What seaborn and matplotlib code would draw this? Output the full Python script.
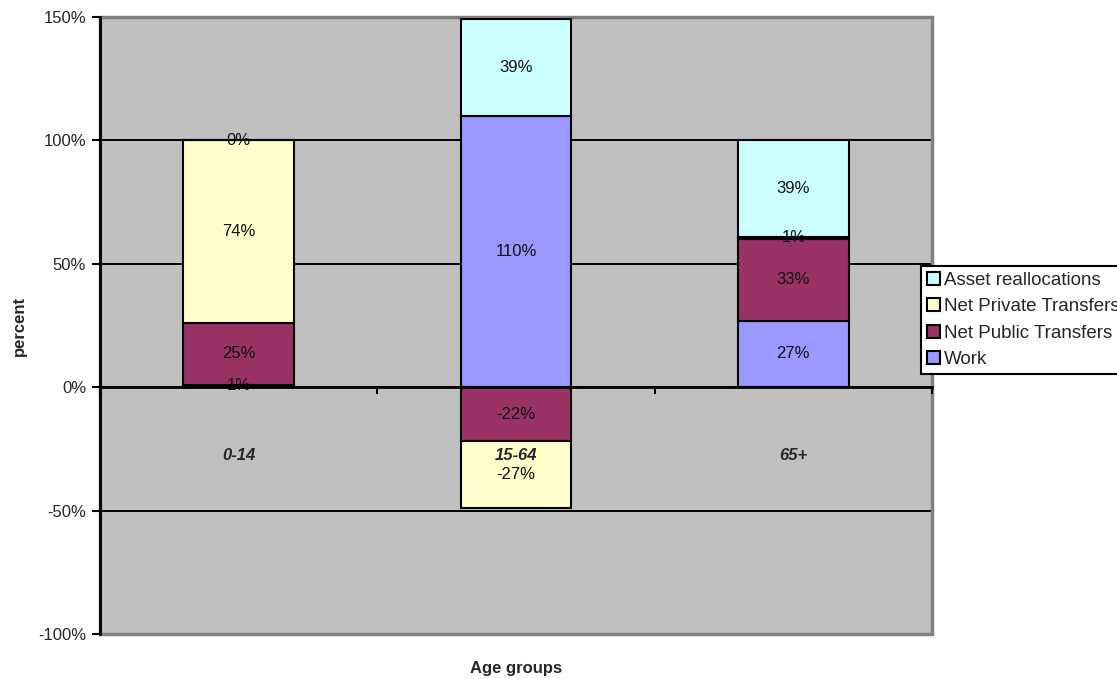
import numpy as np
import matplotlib
matplotlib.use("Agg")
import matplotlib.pyplot as plt
from matplotlib.ticker import PercentFormatter, FixedLocator
from matplotlib.patches import Rectangle
import seaborn as sns

# Age groups and the contribution of each source (percent)
age_groups = ["0-14", "15-64", "65+"]
work = [1, 110, 27]
net_public = [25, -22, 33]
net_private = [74, -27, 1]
asset_realloc = [0, 39, 39]

series_names = ["Work", "Net Public Transfers", "Net Private Transfers", "Asset reallocations"]
series_values = [work, net_public, net_private, asset_realloc]
series_colors = ["#9999FF", "#993366", "#FFFFCC", "#CCFFFF"]

y_ticks = [-100, -50, 0, 50, 100, 150]

sns.set_style("white")
plt.rcParams["font.family"] = ["Liberation Sans", "DejaVu Sans"]
plt.rcParams["axes.unicode_minus"] = False

fig = plt.figure(figsize=(11.17, 6.79), dpi=100)
ax = fig.add_axes([100 / 1117, 45 / 679, 832 / 1117, 617 / 679])
ax.set_facecolor("#C0C0C0")

# horizontal gridlines behind the bars
for t in y_ticks:
    ax.axhline(t, color="black", lw=1.4, zorder=0.5)

# stacked bars: positives build upward from 0, negatives downward
pos_base = np.zeros(len(age_groups))
neg_base = np.zeros(len(age_groups))
for name, vals, col in zip(series_names, series_values, series_colors):
    vals = np.asarray(vals, dtype=float)
    bottoms = np.where(vals >= 0, pos_base, neg_base)
    sns.barplot(x=age_groups, y=vals, bottom=bottoms, color=col, width=0.4,
                edgecolor="black", linewidth=1.5, label=name, ax=ax,
                saturation=1, zorder=1, legend=False)
    cont = ax.containers[-1]
    ax.bar_label(cont, labels=[f"{v:.0f}%" for v in vals], label_type="center",
                 fontsize=12, color="#111111")
    pos_base = np.where(vals >= 0, pos_base + vals, pos_base)
    neg_base = np.where(vals < 0, neg_base + vals, neg_base)

if ax.get_legend() is not None:
    ax.get_legend().remove()

ax.set_xlim(-0.5, 2.5)
ax.set_ylim(-100, 150)
ax.yaxis.set_major_locator(FixedLocator(y_ticks))
ax.yaxis.set_major_formatter(PercentFormatter(decimals=0))
ax.tick_params(axis="y", direction="out", length=6, width=1.5, color="black",
               labelsize=12, pad=4, left=True)

# category axis sits on the zero line
ax.set_axisbelow(False)
for s in ["top", "right"]:
    ax.spines[s].set_visible(False)
ax.spines["bottom"].set_position(("data", 0))
ax.spines["bottom"].set_color("black")
ax.spines["bottom"].set_linewidth(2)
ax.spines["left"].set_color("black")
ax.spines["left"].set_linewidth(2)
ax.set_xticks([0, 1, 2])
ax.set_xticklabels(age_groups, fontsize=12, fontweight="bold", fontstyle="italic")
ax.tick_params(axis="x", which="major", length=0, pad=44)
ax.set_xticks([-0.5, 0.5, 1.5, 2.5], minor=True)
ax.tick_params(axis="x", which="minor", direction="out", length=5, width=1.5,
               color="black", bottom=True)

# plot-area frame
ax.add_patch(Rectangle((0, 0), 1, 1, transform=ax.transAxes, fill=False,
                       edgecolor="#808080", lw=2.5, zorder=0.6, clip_on=False))

ax.set_xlabel("Age groups", fontsize=12, fontweight="bold")
ax.xaxis.set_label_coords(0.5, -0.044)
ax.set_ylabel("percent", fontsize=12, fontweight="bold")
ax.yaxis.set_label_coords(-0.088, 0.5)

handles, labels = ax.get_legend_handles_labels()
leg = fig.legend(handles[::-1], labels[::-1], loc="upper left",
                 bbox_to_anchor=(921 / 1117, 413 / 679), fontsize=13.5,
                 frameon=True, fancybox=False, framealpha=1, edgecolor="black",
                 handlelength=0.7, handleheight=0.7, handletextpad=0.2,
                 labelspacing=0.5, borderpad=0.3, borderaxespad=0)
leg.get_frame().set_linewidth(1.5)
for h in leg.legend_handles:
    h.set_edgecolor("black")
    h.set_linewidth(1.5)

fig.savefig("out.png", dpi=100)
